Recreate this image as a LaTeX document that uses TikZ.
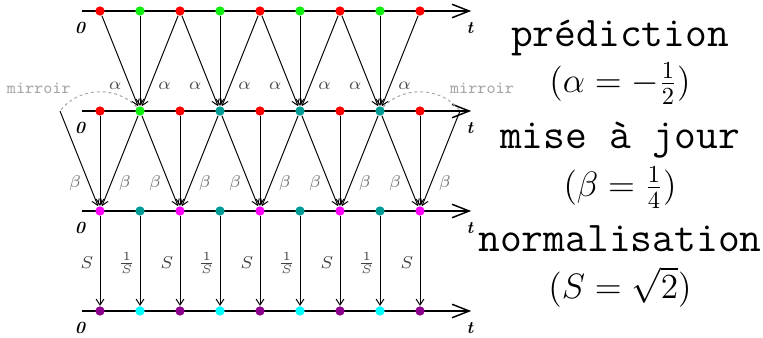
\documentclass[tikz,border=0pt]{standalone}
\usetikzlibrary{arrows.meta, calc}
\definecolor{predred}{HTML}{FF0000}
\definecolor{predgreen}{HTML}{11EE11}
\definecolor{updteal}{HTML}{009C94}
\definecolor{updmagenta}{HTML}{FF00FF}
\definecolor{normpurple}{HTML}{8E008E}
\definecolor{normcyan}{HTML}{00FFFF}
\tikzset{
  dot/.style    = {circle, inner sep=0pt, minimum size=3.8pt, fill=#1},
  axis/.style   = {semithick, -{Straight Barb[length=7pt, width=5.5pt]}},
  flow/.style   = {-{Straight Barb[length=2.4pt, width=3.2pt]}},
  mirror/.style = {dashed, draw=black!35, dash pattern=on 1.2pt off 1.2pt},
  tick/.style   = {font=\scriptsize\bfseries\itshape, inner sep=0pt},
  coef/.style   = {font=\scriptsize, inner sep=0pt},
  title/.style  = {font=\LARGE\ttfamily, inner sep=0pt},
  value/.style  = {font=\Large, inner sep=0pt},
}
\begin{document}
\begin{tikzpicture}[x=0.574cm, y=0.574cm]
\useasboundingbox (-2.5,0.275) rectangle (16.575,-8.175);

% Time axes
\foreach \r/\y in {a/0, b/-2.5, c/-5, d/-7.5} {
  \draw [axis] (-0.45,\y) -- (9.28,\y);
  \node (zero\r) [tick] at (-0.5,\y-0.42) {0};
  \node (time\r) [tick] at (9.25,\y-0.42) {t};
}

% Samples
\foreach \i in {0,2,...,8} {
  \node (a\i) [dot=predred]    at (\i,0)    {};
  \node (b\i) [dot=predred]    at (\i,-2.5) {};
  \node (c\i) [dot=updmagenta] at (\i,-5)   {};
  \node (d\i) [dot=normpurple] at (\i,-7.5) {};
}
\foreach \i/\c in {1/predgreen, 3/updteal, 5/updteal, 7/updteal} {
  \node (a\i) [dot=predgreen] at (\i,0)    {};
  \node (b\i) [dot=\c]        at (\i,-2.5) {};
  \node (c\i) [dot=updteal]   at (\i,-5)   {};
  \node (d\i) [dot=normcyan]  at (\i,-7.5) {};
}
% Mirrored samples at both ends
\coordinate (b-1) at (-1,-2.5);
\coordinate (b9)  at (9,-2.5);
\draw [mirror] (b1) to[bend right=50] (b-1);
\draw [mirror] (b7) to[bend left=50] (b9);
\node (mirl) [font=\scriptsize\ttfamily, text=black!35] at (-1.53,-1.93) {mirroir};
\node (mirr) [font=\scriptsize\ttfamily, text=black!35] at (9.55,-1.93) {mirroir};

% Prediction step
\foreach \i [evaluate=\i as \l using int(\i-1), evaluate=\i as \r using int(\i+1)] in {1,3,5,7} {
  \draw [flow] (a\l) -- (b\i);
  \draw [flow] (a\i) -- (b\i);
  \draw [flow] (a\r) -- (b\i);
  \node (al\i) [coef, text=black!70] at ($(b\i)+(-0.62,0.63)$) {$\alpha$};
  \node (ar\i) [coef, text=black!70] at ($(b\i)+(0.61,0.63)$)  {$\alpha$};
}

% Update step
\foreach \i [evaluate=\i as \l using int(\i-1), evaluate=\i as \r using int(\i+1)] in {0,2,...,8} {
  \draw [flow] (b\l) -- (c\i);
  \draw [flow] (b\i) -- (c\i);
  \draw [flow] (b\r) -- (c\i);
  \node (bl\i) [coef, text=black!55] at ($(c\i)+(-0.62,0.7)$) {$\beta$};
  \node (br\i) [coef, text=black!55] at ($(c\i)+(0.62,0.7)$)  {$\beta$};
}

% Normalisation step
\foreach \i in {0,...,8} {
  \draw [flow] (c\i) -- (d\i);
}
\foreach \i in {0,2,...,8} {
  \node (s\i) [coef, text=black!75] at ($(c\i)+(-0.33,-1.3)$) {$S$};
}
\foreach \i in {1,3,5,7} {
  \node (s\i) [coef, text=black!75] at ($(c\i)+(-0.33,-1.3)$) {$\frac{1}{S}$};
}

% Step names
\node (pred)    [title] at (13,-0.68)  {prédiction};
\node (predval) [value] at (13,-1.82)  {$(\alpha=-\frac{1}{2})$};
\node (maj)     [title] at (13,-3.23)  {mise à jour};
\node (majval)  [value] at (13,-4.42)  {$(\beta=\frac{1}{4})$};
\node (norm)    [title] at (13,-5.7)   {normalisation};
\node (normval) [value] at (13,-6.9)   {$(S=\sqrt{2})$};

\end{tikzpicture}
\end{document}
